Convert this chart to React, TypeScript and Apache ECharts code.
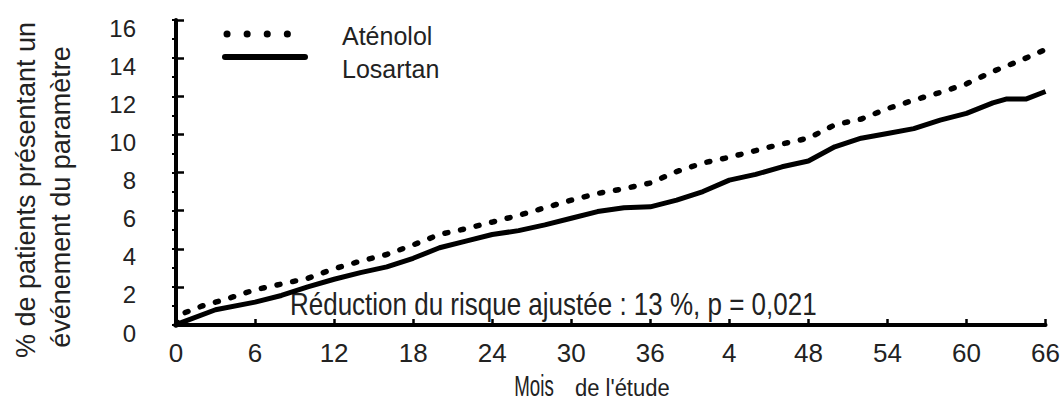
import React, { useEffect, useRef } from "react";
import * as echarts from "echarts";

const FONT = '"Liberation Sans", Arial, sans-serif';

const seriesNames = ["Aténolol", "Losartan"];
const xTickLabels = ["0", "6", "12", "18", "24", "30", "36", "4", "48", "54", "60", "66"];
const yTickLabels = ["0", "2", "4", "6", "8", "10", "12", "14", "16"];

const atenololMonths = [0, 0.5, 2, 4, 6, 8, 10, 12, 14, 16, 18, 20, 22, 24, 26, 28, 30, 32, 34, 36, 38, 40, 42, 44, 46, 48, 50, 52, 54, 56, 58, 60, 62, 64, 66];
const atenololValues = [0, 0.6, 1.0, 1.4, 1.85, 2.15, 2.45, 2.95, 3.35, 3.7, 4.2, 4.75, 5.05, 5.4, 5.75, 6.15, 6.55, 6.9, 7.15, 7.45, 8.05, 8.5, 8.8, 9.15, 9.5, 9.8, 10.5, 10.8, 11.35, 11.8, 12.2, 12.65, 13.3, 13.85, 14.45];

const losartanMonths = [0, 0.5, 3, 6, 8, 10, 12, 14, 16, 18, 20, 22, 24, 26, 28, 30, 32, 34, 36, 38, 40, 42, 44, 46, 48, 50, 52, 54, 56, 58, 60, 62, 63, 64.5, 66];
const losartanValues = [0, 0.15, 0.8, 1.2, 1.55, 2.0, 2.4, 2.75, 3.05, 3.5, 4.05, 4.4, 4.75, 4.95, 5.25, 5.6, 5.95, 6.15, 6.2, 6.55, 7.0, 7.6, 7.9, 8.3, 8.6, 9.35, 9.8, 10.05, 10.3, 10.75, 11.1, 11.65, 11.85, 11.85, 12.25];

const annotationText = "Réduction du risque ajustée : 13 %, p = 0,021";
const yNameLines = ["% de patients présentant un", "événement du paramètre"];
const xNameParts = ["Mois", "de l'étude"];

export default function App() {
  const ref = useRef<HTMLDivElement>(null);
  useEffect(() => {
    if (!ref.current) return;
    const chart = echarts.init(ref.current, undefined, { renderer: "svg" });
    const textColor = "#222";
    chart.setOption({
      animation: false,
      grid: { left: 176, right: 13, top: 20, bottom: 79 },
      xAxis: {
        type: "value",
        min: 0,
        max: 66,
        interval: 6,
        axisLine: { show: true, lineStyle: { color: "#000", width: 4 } },
        axisTick: { show: true, inside: true, length: 6, lineStyle: { color: "#000", width: 2.5 } },
        splitLine: { show: false },
        axisLabel: {
          color: textColor,
          fontFamily: FONT,
          fontSize: 26,
          margin: 15,
          formatter: (v: number) => xTickLabels[Math.round(v / 6)] ?? "",
        },
      },
      yAxis: [
        {
          type: "value",
          min: 0,
          max: 16,
          interval: 2,
          axisLine: { show: true, lineStyle: { color: "#000", width: 4 } },
          axisTick: { show: true, inside: true, length: 8, lineStyle: { color: "#000", width: 2.5 } },
          splitLine: { show: false },
          axisLabel: {
            color: textColor,
            fontFamily: FONT,
            fontSize: 24,
            margin: 40,
            verticalAlign: "top",
            lineHeight: 16,
            formatter: (v: number) => yTickLabels[Math.round(v / 2)] ?? "",
          },
        },
        {
          type: "value",
          position: "left",
          min: 0,
          max: 16,
          interval: 1,
          axisLine: { show: false },
          axisTick: { show: true, inside: false, length: 4, lineStyle: { color: "#000", width: 2 } },
          splitLine: { show: false },
          axisLabel: { show: false },
        },
      ],
      series: [
        {
          name: seriesNames[0],
          type: "line",
          showSymbol: false,
          data: atenololMonths.map((m, i) => [m, atenololValues[i]]),
          lineStyle: { color: "#000", width: 5.5, type: [3, 13], cap: "round" },
          z: 3,
        },
        {
          name: seriesNames[1],
          type: "line",
          showSymbol: false,
          data: losartanMonths.map((m, i) => [m, losartanValues[i]]),
          lineStyle: { color: "#000", width: 5 },
          z: 4,
        },
      ],
      graphic: [
        {
          type: "line",
          shape: { x1: 227, y1: 34, x2: 288, y2: 34 },
          style: { stroke: "#000", lineWidth: 7, lineDash: [0.1, 20], lineCap: "round" },
        },
        {
          type: "line",
          shape: { x1: 225, y1: 57, x2: 305, y2: 57 },
          style: { stroke: "#000", lineWidth: 6, lineCap: "round" },
        },
        {
          type: "text",
          x: 342,
          y: 36,
          style: { text: seriesNames[0], font: `25px ${FONT}`, fill: textColor, textAlign: "left", textVerticalAlign: "middle" },
        },
        {
          type: "text",
          x: 342,
          y: 69,
          style: { text: seriesNames[1], font: `25px ${FONT}`, fill: textColor, textAlign: "left", textVerticalAlign: "middle" },
        },
        {
          type: "text",
          x: 290,
          y: 304,
          scaleY: 1.18,
          style: { text: annotationText, font: `26px ${FONT}`, fill: textColor, textAlign: "left", textVerticalAlign: "middle" },
        },
        {
          type: "text",
          x: 26,
          y: 190,
          rotation: Math.PI / 2,
          style: { text: yNameLines[0], font: `27px ${FONT}`, fill: textColor, textAlign: "center", textVerticalAlign: "middle" },
        },
        {
          type: "text",
          x: 61,
          y: 197,
          rotation: Math.PI / 2,
          style: { text: yNameLines[1], font: `27px ${FONT}`, fill: textColor, textAlign: "center", textVerticalAlign: "middle" },
        },
        {
          type: "text",
          x: 534,
          y: 386,
          scaleX: 0.72,
          scaleY: 1.12,
          style: { text: xNameParts[0], font: `26px ${FONT}`, fill: textColor, textAlign: "center", textVerticalAlign: "middle" },
        },
        {
          type: "text",
          x: 575,
          y: 388,
          scaleY: 1.1,
          style: { text: xNameParts[1], font: `22px ${FONT}`, fill: textColor, textAlign: "left", textVerticalAlign: "middle" },
        },
      ],
    });
    return () => chart.dispose();
  }, []);
  return <div ref={ref} style={{ width: 1063, height: 404, position: "absolute", left: 0, top: 0 }} />;
}
